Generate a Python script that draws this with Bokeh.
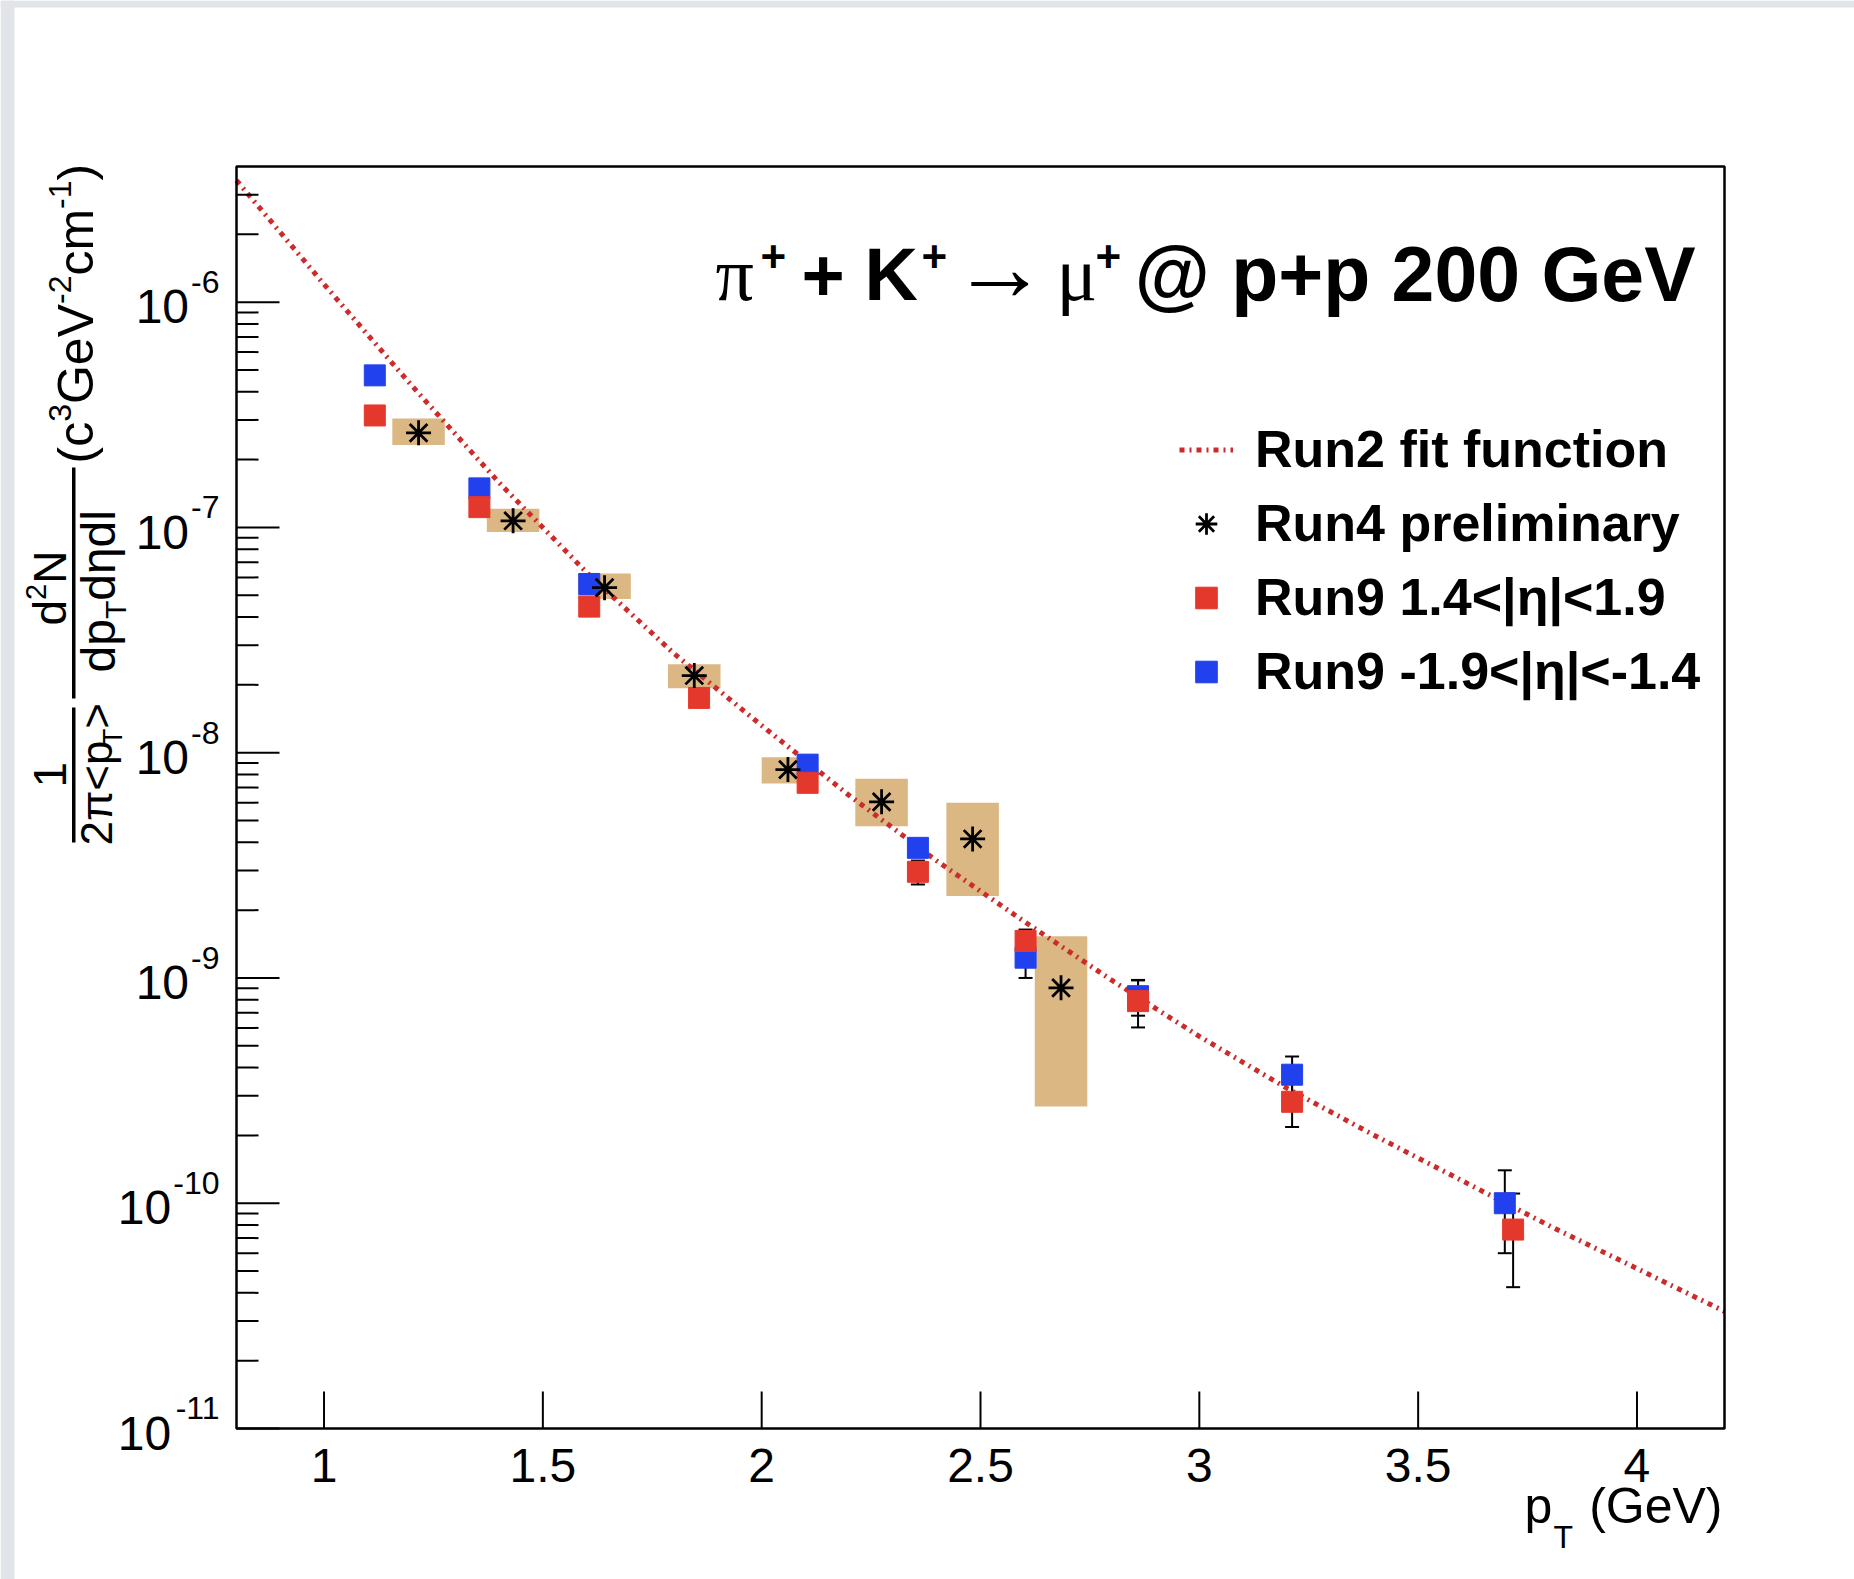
import math
import numpy as np
from bokeh.plotting import figure
from bokeh.models import (Label, BoxAnnotation, Legend, LegendItem, Range1d)
from bokeh.embed import file_html
from bokeh.resources import INLINE

# ---------------- data ----------------
fit_pt = [0.8, 1.0, 1.2, 1.4, 1.6, 1.8, 2.0, 2.2, 2.4, 2.6, 2.8, 3.0, 3.2, 3.4, 3.6, 3.8, 4.0, 4.2]
fit_val = [3.47e-6, 1.20e-6, 4.27e-7, 1.58e-7, 6.31e-8, 2.75e-8, 1.32e-8, 6.46e-9, 3.31e-9,
           1.78e-9, 9.77e-10, 5.50e-10, 3.24e-10, 2.00e-10, 1.26e-10, 7.94e-11, 5.13e-11, 3.31e-11]

run4_pt = [1.216, 1.432, 1.641, 1.846, 2.06, 2.274, 2.482, 2.684]
run4_val = [2.63e-7, 1.07e-7, 5.40e-8, 2.20e-8, 8.41e-9, 6.05e-9, 4.14e-9, 9.04e-10]
run4_sys_lo = [2.32e-7, 9.53e-8, 4.81e-8, 1.93e-8, 7.30e-9, 4.71e-9, 2.31e-9, 2.69e-10]
run4_sys_hi = [3.04e-7, 1.21e-7, 6.25e-8, 2.47e-8, 9.55e-9, 7.66e-9, 6.00e-9, 1.53e-9]

run9_pos_pt = [1.116, 1.355, 1.606, 1.857, 2.105, 2.357, 2.603, 2.86, 3.212, 3.717]
run9_pos_val = [3.14e-7, 1.23e-7, 4.45e-8, 1.75e-8, 7.35e-9, 2.96e-9, 1.46e-9, 7.89e-10, 2.82e-10, 7.64e-11]
run9_pos_err = [1.0e-8, 4.0e-9, 1.5e-9, 6.0e-10, 3.0e-10, 3.6e-10, 1.8e-10, 1.86e-10, 6.4e-11, 3.4e-11]

run9_neg_pt = [1.116, 1.355, 1.606, 2.105, 2.357, 2.603, 2.86, 3.212, 3.698]
run9_neg_val = [4.73e-7, 1.49e-7, 5.61e-8, 8.85e-9, 3.78e-9, 1.23e-9, 8.30e-10, 3.72e-10, 1.00e-10]
run9_neg_err = [1.5e-8, 5.0e-9, 2.0e-9, 3.0e-10, 1.5e-10, 2.3e-10, 1.5e-10, 7.6e-11, 4.0e-11]

x_ticks = [1, 1.5, 2, 2.5, 3, 3.5, 4]
x_tick_labels = ["1", "1.5", "2", "2.5", "3", "3.5", "4"]
y_ticks = [1e-11, 1e-10, 1e-9, 1e-8, 1e-7, 1e-6]
y_tick_exps = ["-11", "-10", "-9", "-8", "-7", "-6"]

legend_labels = ["Run2 fit function", "Run4 preliminary", "Run9 1.4<|η|<1.9", "Run9 -1.9<|η|<-1.4"]

# ---------------- styles / layout ----------------
FONT = "Liberation Sans"
SERIF = "Liberation Serif"
RED = "#e5382c"
BLUE = "#2241ee"
TAN = "#dbb783"
FIT = "#cc2b2b"
PAGE_GRAY = "#e1e4e8"
BOX_HW = 0.06
CORR = 0.36          # baseline correction of Bokeh text placement (em)

CW, CH = 1854, 1579                      # canvas
PL, PR, PT, PB = 236, 1724, 166, 1428    # plot box in canvas pixels
X0, X1 = 0.8, 4.2
Y0, Y1 = 1e-11, 4.0e-6

sxu = (PR - PL) / (X1 - X0)
ly0, ly1 = math.log10(Y0), math.log10(Y1)
syu = (PB - PT) / (ly1 - ly0)
x_rng = Range1d(X0 - PL / sxu, X1 + (CW - PR) / sxu)
y_rng = Range1d(10 ** (ly0 - (CH - PB) / syu), 10 ** (ly1 + PT / syu))

p = figure(width=CW, height=CH, x_range=x_rng, y_range=y_rng, y_axis_type="log",
           x_axis_location=None, y_axis_location=None,
           output_backend="svg", toolbar_location=None,
           min_border=0, background_fill_color="white", border_fill_color="white")
p.grid.visible = False
p.outline_line_color = None

# ---------------- glyphs ----------------
r4x = np.array(run4_pt)
p.quad(left=r4x - BOX_HW, right=r4x + BOX_HW, bottom=run4_sys_lo, top=run4_sys_hi,
       fill_color=TAN, line_color=None)

fit_r = p.line(fit_pt, fit_val, line_color=FIT, line_width=5, line_dash="5 5 2 5")

for pts, vals, errs in [(run9_neg_pt, run9_neg_val, run9_neg_err), (run9_pos_pt, run9_pos_val, run9_pos_err)]:
    v = np.array(vals)
    e = np.array(errs)
    p.segment(x0=pts, y0=v - e, x1=pts, y1=v + e, line_color="black", line_width=2)
    p.scatter(pts, v - e, marker="dash", size=14, line_color="black", line_width=2)
    p.scatter(pts, v + e, marker="dash", size=14, line_color="black", line_width=2)

neg_r = p.scatter(run9_neg_pt, run9_neg_val, marker="square", size=21, fill_color=BLUE, line_color=BLUE)
pos_r = p.scatter(run9_pos_pt, run9_pos_val, marker="square", size=21, fill_color=RED, line_color=RED)
r4_r = p.scatter(run4_pt, run4_val, marker="asterisk", size=25, line_color="black", line_width=2.8)

# ---------------- axes (frame, ticks) ----------------
minor = []
for t in [1e-12] + y_ticks:
    for k in range(2, 10):
        v = k * t
        if Y0 < v < Y1:
            minor.append(v)

p.ray(x=x_ticks, y=Y0, length=37, length_units="screen", angle=math.pi / 2,
      line_color="black", line_width=2)
p.ray(x=X0, y=y_ticks, length=43, length_units="screen", angle=0,
      line_color="black", line_width=2)
p.ray(x=X0, y=minor, length=22, length_units="screen", angle=0,
      line_color="black", line_width=2)
p.add_layout(BoxAnnotation(left=X0, right=X1, bottom=Y0, top=Y1, fill_color=None, fill_alpha=0,
                           line_color="black", line_width=2.5, line_alpha=1))

legend = Legend(items=[LegendItem(label=legend_labels[0], renderers=[fit_r]),
                       LegendItem(label=legend_labels[1], renderers=[r4_r]),
                       LegendItem(label=legend_labels[2], renderers=[pos_r]),
                       LegendItem(label=legend_labels[3], renderers=[neg_r])],
                location=(1179, CH - 701), orientation="vertical",
                label_text_font=FONT, label_text_font_style="bold", label_text_font_size="52px",
                label_text_color="black",
                glyph_width=54, glyph_height=55, label_height=55, spacing=14, label_standoff=22,
                padding=0, margin=0, border_line_color=None, background_fill_alpha=0)
p.add_layout(legend)


# ---------------- text helpers ----------------
def lab(text, x, y, size, align="left", font=FONT, style="normal", angle=0.0,
        x_units="canvas", y_units="canvas", y_offset=0.0):
    # (x, y): position of the text baseline start (canvas px, y downwards)
    if angle == 0.0:
        if y_units == "canvas":
            y = y - CORR * size
        else:
            y_offset = y_offset + CORR * size
    else:
        x = x - CORR * size
    p.add_layout(Label(x=x, y=y, text=text, x_units=x_units, y_units=y_units,
                       text_font=font, text_font_style=style, text_font_size=f"{size}px",
                       text_color="black", text_align=align, text_baseline="alphabetic",
                       angle=angle, y_offset=y_offset))


W = {'(': .333, ')': .333, 'c': .5, 'G': .778, 'e': .556, 'V': .667, 'm': .833, '-': .333,
     'd': .556, 'N': .722, 'p': .556, 'π': .57, '<': .584, '>': .584, 'T': .611, 'η': .56,
     'l': .222, ' ': .278}


def tw(text, size):
    return sum(W.get(ch, .556) for ch in text) * size


def vrun(segs, xb, ystart):
    pos = 0.0
    for text, size, rise in segs:
        lab(text, xb - rise, ystart - pos, size, angle=math.pi / 2)
        pos += tw(text, size)


def cbox(l, r, t, b, color):
    p.add_layout(BoxAnnotation(left=l, right=r, top=t, bottom=b,
                               left_units="canvas", right_units="canvas",
                               top_units="canvas", bottom_units="canvas",
                               fill_color=color, fill_alpha=1, line_color=None))


# page edge
cbox(0, 14, 0, CH, PAGE_GRAY)
cbox(0, CW, 0, 7, PAGE_GRAY)

# title
TB = 301
lab("π", 715, TB, 76, font=SERIF)
lab("+", 760, 272, 44, style="bold")
lab("+", 801, TB, 74, style="bold")
lab("K", 864, TB, 74, style="bold")
lab("+", 921, 272, 44, style="bold")
lab("→", 951, TB, 96)
lab("μ", 1056, TB, 76, font=SERIF)
lab("+", 1095, 272, 44, style="bold")
lab("@ p+p 200 GeV", 1695, TB, 77, align="right", style="bold")

# x tick labels
for t, s in zip(x_ticks, x_tick_labels):
    lab(s, t, 1482, 48, align="center", x_units="data")

# x-axis title
lab("p", 1524, 1523, 50)
lab("T", 1553, 1548, 32)
lab("(GeV)", 1722, 1523, 50, align="right")

# y tick labels
for t, ex in zip(y_ticks, y_tick_exps):
    wexp = tw(ex, 32)
    lab(ex, 219, t, 32, align="right", y_units="data", y_offset=8.5)
    lab("10", 219 - wexp - 2, t, 48, align="right", y_units="data", y_offset=-22)

# y-axis title (rotated, reading upwards)
vrun([("(c", 50, 0), ("3", 32, 22), ("GeV", 50, 0), ("-2", 32, 22), ("cm", 50, 0), ("-1", 32, 22), (")", 50, 0)], 93, 463)
vrun([("d", 46, 0), ("2", 29, 20), ("N", 46, 0)], 66, 625)
cbox(71.5, 75, 467, 698, "black")
vrun([("dp", 48, 0), ("T", 30, -11), (" dηdl", 48, 0)], 115, 672)
vrun([("1", 46, 0)], 66, 787)
cbox(71.5, 75, 707, 842, "black")
vrun([("2π<p", 44, 0), ("T", 28, -10), (">", 44, 0)], 112, 845)

open("out.html", "w").write(file_html(p, INLINE))
